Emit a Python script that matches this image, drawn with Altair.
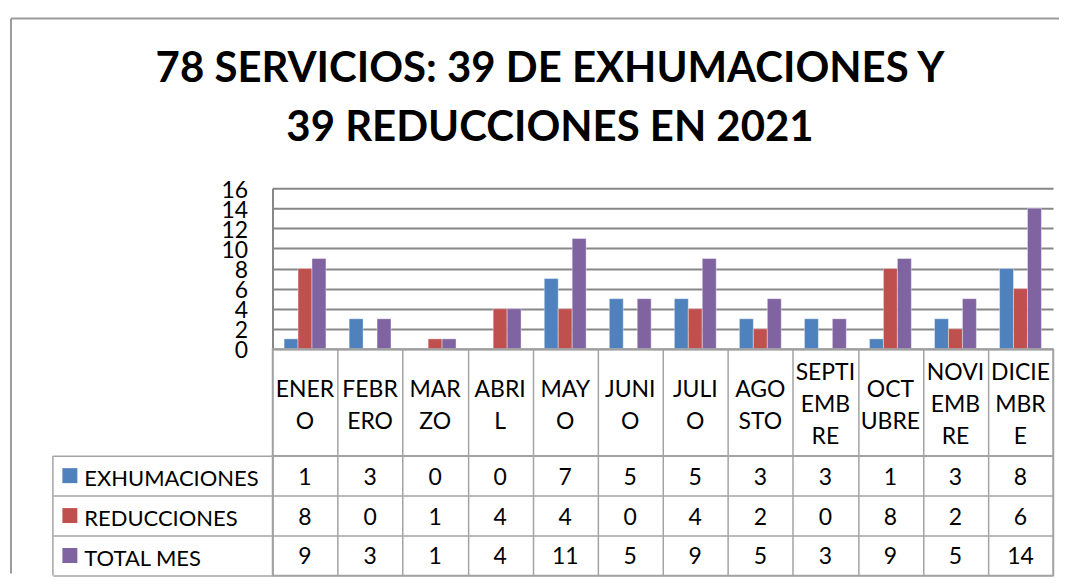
import altair as alt
import pandas as pd

# ---------------- data ----------------
months = ["ENERO", "FEBRERO", "MARZO", "ABRIL", "MAYO", "JUNIO", "JULIO",
          "AGOSTO", "SEPTIEMBRE", "OCTUBRE", "NOVIEMBRE", "DICIEMBRE"]
month_labels = ["ENER\nO", "FEBR\nERO", "MAR\nZO", "ABRI\nL", "MAY\nO", "JUNI\nO",
                "JULI\nO", "AGO\nSTO", "SEPTI\nEMB\nRE", "OCT\nUBRE", "NOVI\nEMB\nRE",
                "DICIE\nMBR\nE"]
series = ["EXHUMACIONES", "REDUCCIONES", "TOTAL MES"]
exhumaciones = [1, 3, 0, 0, 7, 5, 5, 3, 3, 1, 3, 8]
reducciones = [8, 0, 1, 4, 4, 0, 4, 2, 0, 8, 2, 6]
total_mes = [9, 3, 1, 4, 11, 5, 9, 5, 3, 9, 5, 14]
colors = ["#4F81BD", "#C0504D", "#8064A2"]
y_ticks = [0, 2, 4, 6, 8, 10, 12, 14, 16]
title_text = "78 SERVICIOS:  39 DE EXHUMACIONES Y\n39 REDUCCIONES  EN 2021"

rows = []
for name, vals in zip(series, [exhumaciones, reducciones, total_mes]):
    for m, v in zip(months, vals):
        rows.append({"month": m, "series": name, "value": v})
df = pd.DataFrame(rows)
hdf = pd.DataFrame({"month": months, "label": month_labels,
                    "nlines": [lbl.count("\n") + 1 for lbl in month_labels]})
ldf = pd.DataFrame({"series": series})
tdf = pd.DataFrame({"title": [title_text]})

FONT = "Lato"
W = 782
GRID = "#878787"
TAB = "#a3a3a3"

xscale = alt.Scale(domain=months, paddingInner=0, paddingOuter=0)
cscale = alt.Scale(domain=series, range=colors)

# ---------------- bars ----------------
bars = alt.Chart(df).transform_filter("datum.value > 0").mark_bar(
    stroke="#ffffff", strokeOpacity=0.4, strokeWidth=1
).encode(
    x=alt.X("month:N", scale=xscale, axis=None, sort=months),
    xOffset=alt.XOffset("series:N", sort=series,
                        scale=alt.Scale(domain=series, paddingInner=0, paddingOuter=0.83)),
    y=alt.Y("value:Q", scale=alt.Scale(domain=[0, 16], nice=False),
            axis=alt.Axis(values=y_ticks, grid=True, gridColor=GRID, gridWidth=2,
                          domain=True, domainColor=GRID, domainWidth=2, ticks=False,
                          labelPadding=25, labelFontSize=23, labelFont=FONT,
                          labelColor="black", labelOffset=2, labelOverlap=False,
                          labelFlush=False, title=None)),
    color=alt.Color("series:N", scale=cscale, legend=None),
)

one = alt.Data(values=[{}])
frame_top = alt.Chart(one).mark_rule(color="#9c9c9c", strokeWidth=2).encode(
    x=alt.value(-262), x2=alt.value(788), y=alt.value(-170))
frame_left = alt.Chart(one).mark_rule(color="#9c9c9c", strokeWidth=2).encode(
    x=alt.value(-262), y=alt.value(-170), y2=alt.value(386))
title = alt.Chart(tdf).mark_text(
    font=FONT, fontSize=42, fontWeight="bold", color="black", lineBreak="\n",
    lineHeight=59, align="center", baseline="middle"
).encode(x=alt.value(278), y=alt.value(-119), text="title:N")

top = alt.layer(bars, frame_top, frame_left, title).properties(
    width=W, height=161,
    view=alt.ViewBackground(stroke="transparent"),
)

# ---------------- header (month names) ----------------
hx = alt.X("month:N", scale=xscale, sort=months,
           axis=alt.Axis(grid=True, tickBand="extent", gridColor=TAB, gridWidth=1.5,
                         labels=False, ticks=False, domain=False, title=None))
head2 = alt.Chart(hdf).transform_filter("datum.nlines == 2").mark_text(
    font=FONT, fontSize=23, lineBreak="\n", lineHeight=32, dy=-12, color="black"
).encode(x=hx, text="label:N")
head3 = alt.Chart(hdf).transform_filter("datum.nlines == 3").mark_text(
    font=FONT, fontSize=23, lineBreak="\n", lineHeight=32, dy=-29, color="black"
).encode(x=hx, text="label:N")
header = alt.layer(head2, head3).properties(
    width=W, height=107, view=alt.ViewBackground(stroke=TAB, strokeWidth=1.5))

# ---------------- data table ----------------
yenc = alt.Y("series:N", sort=series,
             scale=alt.Scale(domain=series, paddingInner=0, paddingOuter=0),
             axis=alt.Axis(title=None, labelAlign="left", labelPadding=-31,
                           labelFont=FONT, labelFontSize=22, labelColor="black",
                           labelOffset=3, ticks=True, tickBand="extent", tickSize=220,
                           tickColor=TAB, tickWidth=1.5, grid=True, gridColor=TAB,
                           gridWidth=1.5, domain=True, domainColor=TAB, domainWidth=1.5))
xenc = alt.X("month:N", scale=xscale, sort=months,
             axis=alt.Axis(grid=True, tickBand="extent", gridColor=TAB, gridWidth=1.5,
                           labels=False, ticks=False, domain=False, title=None))

cells = alt.Chart(df).mark_text(font=FONT, fontSize=23, color="black", dy=2).encode(
    x=xenc, y=yenc, text="value:Q")
squares = alt.Chart(ldf).mark_point(shape="square", size=225, filled=True, opacity=1,
                                     strokeWidth=0).encode(
    x=alt.value(-203), y=yenc,
    color=alt.Color("series:N", scale=cscale, legend=None))
leg_left = alt.Chart(one).mark_rule(color=TAB, strokeWidth=1.5).encode(
    x=alt.value(-220), y=alt.value(0), y2=alt.value(120))

table = alt.layer(cells, squares, leg_left).properties(
    width=W, height=120,
    view=alt.ViewBackground(stroke=TAB, strokeWidth=1.5))

chart = alt.vconcat(top, header, table, spacing=0, bounds="flush").properties(
    padding={"left": 1, "top": 8, "right": 0, "bottom": 0},
    background="white",
).configure_view(stroke="transparent")

chart.save("out.html", embed_options={"renderer": "svg", "actions": False})
